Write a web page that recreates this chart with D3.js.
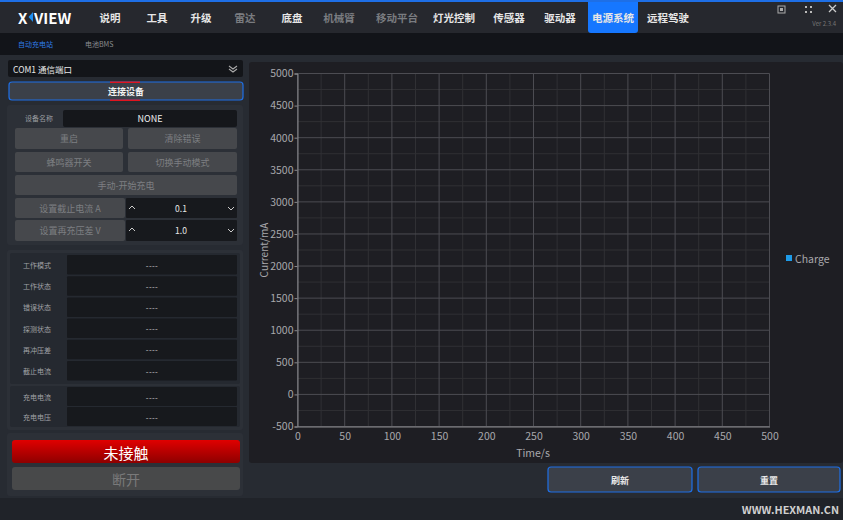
<!DOCTYPE html>
<html><head><meta charset="utf-8">
<script src="https://cdn.jsdelivr.net/npm/d3@7/dist/d3.min.js"></script>
<style>
html,body{margin:0;padding:0;background:#272b32;overflow:hidden}
svg{display:block}
text{font-family:"Noto Sans CJK SC","Noto Sans","Open Sans",sans-serif}
</style></head>
<body>
<svg id="c" width="843" height="520"></svg>
<script>
// ---- data ----
const menuItems = ["说明","工具","升级","雷达","底盘","机械臂","移动平台","灯光控制","传感器","驱动器","电源系统","远程驾驶"];
const menuEnabled = [true,true,true,false,true,false,false,true,true,true,true,true];
const subTabs = ["自动充电站","电池BMS"];
const statusLabels = ["工作模式","工作状态","错误状态","探测状态","再冲压差","截止电流"];
const chargeLabels = ["充电电流","充电电压"];
const statusValues = ["----","----","----","----","----","----"];
const chargeValues = ["----","----"];
const xTicks = [0,50,100,150,200,250,300,350,400,450,500];
const yTicks = [-500,0,500,1000,1500,2000,2500,3000,3500,4000,4500,5000];
const seriesNames = ["Charge"];
const chargeTime = [];     // no samples recorded
const chargeCurrent = [];

const svg = d3.select("#c");
function rect(x,y,w,h,fill,rx){return svg.append("rect").attr("x",x).attr("y",y).attr("width",w).attr("height",h).attr("fill",fill).attr("rx",rx||0);}
function txt(x,y,s,size,fill,anchor,weight){return svg.append("text").attr("x",x).attr("y",y).attr("font-size",size).attr("fill",fill).attr("text-anchor",anchor||"start").attr("dominant-baseline","central").attr("font-weight",weight||"normal").text(s);}

// background
rect(0,0,843,520,"#272b32");
// header
rect(0,0,843,33,"#26282e");
rect(0,0,843,2,"#1e6fe6");
// logo
txt(18,17,"X",15,"#ffffff","start","bold");
svg.append("path").attr("d","M33,12 L28.5,17 L33,22 Z").attr("fill","#1e8ef0");
txt(34,17,"VIEW",15,"#ffffff","start","bold");
// menu
const menuX = [110,157,201,245,292,339,397,454,509,560,613,668];
menuItems.forEach((m,i)=>{
  if(m==="电源系统"){
    svg.append("path").attr("d","M588,2 H638 V30 Q638,33 635,33 H591 Q588,33 588,30 Z").attr("fill","#1677ff");
  }
  txt(menuX[i],17,m,10.5,menuEnabled[i]?"#e6e6e6":"#7a7c80","middle","bold");
});
// window icons
svg.append("rect").attr("x",778).attr("y",6).attr("width",7).attr("height",7).attr("fill","none").attr("stroke","#aaa").attr("stroke-width",1);
svg.append("rect").attr("x",780).attr("y",8).attr("width",3).attr("height",3).attr("fill","#aaa");
[[805,6],[810,6],[805,11],[810,11]].forEach(p=>rect(p[0],p[1],2,2,"#bbb"));
svg.append("path").attr("d","M829,5 L836,12 M836,5 L829,12").attr("stroke","#ccc").attr("stroke-width",1.3);
txt(836,23,"Ver 2.3.4",6,"#777","end");
// subbar
rect(0,33,843,22,"#121419");
txt(18,44,subTabs[0],7,"#2f7de8","start");
txt(85,44,subTabs[1],7,"#8a8c90","start");

// ---- left panel ----
rect(8,60,235,17,"#131519",2);
txt(13,68.5,"COM1 通信端口",8.5,"#e8e8e8","start");
svg.append("path").attr("d","M229,66 L233,69 L237,66 M229,69 L233,72 L237,69").attr("stroke","#aaa").attr("fill","none").attr("stroke-width",1.1);
rect(9,82,234,18,"#3b4049",3);
svg.append("rect").attr("x",9).attr("y",82).attr("width",234).attr("height",18).attr("rx",3).attr("fill","none").attr("stroke","#1e6fe6").attr("stroke-width",1.2);
rect(110,81.5,30,1.5,"#e0141e");rect(110,99.5,30,1.5,"#e0141e");
txt(126,91,"连接设备",9,"#f2f2f2","middle","bold");

// group 1
rect(7,105,236,140,"#2c3037",3);
txt(39,118,"设备名称",7,"#9a9ca0","middle");
rect(63,110,174,17,"#15171b",2);
txt(150,118.5,"NONE",9,"#f0f0f0","middle");
const dis = "#46484c", disT="#7d7f82";
function btn(x,y,w,h,s){rect(x,y,w,h,dis,2);txt(x+w/2,y+h/2,s,9,disT,"middle");}
btn(15,128,108,21,"重启");btn(128,128,109,21,"清除错误");
btn(15,152,108,20,"蜂鸣器开关");btn(128,152,109,20,"切换手动模式");
btn(15,175,222,20,"手动-开始充电");
btn(15,198,110,20,"设置截止电流 A");btn(15,220,110,21,"设置再充压差 V");
[[198,"0.1"],[220,"1.0"]].forEach(d=>{
  rect(126,d[0],111,d[0]===198?20:21,"#17191d",1);
  const cy=d[0]+10;
  svg.append("path").attr("d",`M129,${cy+1} L132,${cy-2} L135,${cy+1}`).attr("stroke","#ccc").attr("fill","none");
  svg.append("path").attr("d",`M228,${cy-1} L231,${cy+2} L234,${cy-1}`).attr("stroke","#ccc").attr("fill","none");
  txt(181,cy,d[1],8.5,"#e8e8e8","middle");
});

// group 2
rect(7,250,236,180,"#2c3037",3);
rect(10,253,230,131,"#252930",2);
statusLabels.forEach((l,i)=>{
  const y=255+i*21.2;
  rect(67,y,170,19.5,"#17191d",1);
  txt(37,y+10,l,7,"#a0a2a6","middle");
  txt(152,y+10,statusValues[i],8,"#c8c8c8","middle").attr("letter-spacing",0.3);
});
rect(10,386,230,41,"#252930",2);
chargeLabels.forEach((l,i)=>{
  const y=387+i*20;
  rect(67,y,170,19,"#17191d",1);
  txt(37,y+10,l,7,"#a0a2a6","middle");
  txt(152,y+10,chargeValues[i],8,"#c8c8c8","middle").attr("letter-spacing",0.3);
});

// group 3
rect(7,433,236,63,"#2c3037",3);
const rg = svg.append("defs").append("linearGradient").attr("id","rg").attr("x1",0).attr("y1",0).attr("x2",0).attr("y2",1);
rg.append("stop").attr("offset","0%").attr("stop-color","#e00000");
rg.append("stop").attr("offset","100%").attr("stop-color","#8e0000");
rect(12,440,228,23,"url(#rg)",3);
txt(126,452,"未接触",15,"#ffffff","middle");
rect(12,467,228,23,"#48494a",3);
txt(126,479,"断开",14,"#7a7a7a","middle");

// ---- chart panel ----
rect(249,62,594,401,"#1e1e23",3);
const x = d3.scaleLinear().domain([0,500]).range([297.5,769.5]);
const y = d3.scaleLinear().domain([-500,5000]).range([426.5,73.5]);
const g = svg.append("g");
// minor grid
d3.range(25,500,50).forEach(v=>g.append("line").attr("x1",x(v)).attr("x2",x(v)).attr("y1",y(-500)).attr("y2",y(5000)).attr("stroke","#303034"));
d3.range(-250,5000,500).forEach(v=>g.append("line").attr("x1",x(0)).attr("x2",x(500)).attr("y1",y(v)).attr("y2",y(v)).attr("stroke","#303034"));
// major grid
xTicks.forEach(v=>g.append("line").attr("x1",x(v)).attr("x2",x(v)).attr("y1",y(-500)).attr("y2",y(5000)).attr("stroke","#4c4c52"));
yTicks.forEach(v=>g.append("line").attr("x1",x(0)).attr("x2",x(500)).attr("y1",y(v)).attr("y2",y(v)).attr("stroke","#4c4c52"));
// axes
const fmt = d => String(d);
const xa = svg.append("g").attr("transform",`translate(0,${y(-500)})`).call(d3.axisBottom(x).tickValues(xTicks).tickFormat(fmt).tickSize(0).tickPadding(6));
const ya = svg.append("g").attr("transform",`translate(${x(0)},0)`).call(d3.axisLeft(y).tickValues(yTicks).tickFormat(fmt).tickSize(3).tickPadding(1));
[xa,ya].forEach(a=>{a.selectAll("path").attr("stroke","#8a8a8e");a.selectAll("line").attr("stroke","#8a8a8e");a.selectAll("text").attr("fill","#a8a8ac").attr("font-size",10.5).attr("font-family","'Open Sans',sans-serif");});
// series line (empty)
svg.append("path").datum(chargeTime.map((t,i)=>[t,chargeCurrent[i]])).attr("fill","none").attr("stroke","#1e9be8").attr("d",d3.line().x(d=>x(d[0])).y(d=>y(d[1])));
// axis titles
svg.append("text").attr("transform","translate(263,250) rotate(-90)").attr("text-anchor","middle").attr("dominant-baseline","central").attr("font-size",10).attr("fill","#a8a8ac").attr("font-family","'Open Sans',sans-serif").text("Current/mA");
svg.append("text").attr("x",533).attr("y",452).attr("text-anchor","middle").attr("dominant-baseline","central").attr("font-size",10.5).attr("fill","#a8a8ac").attr("font-family","'Open Sans',sans-serif").text("Time/s");
// legend
seriesNames.forEach((s,i)=>{
  rect(786,255+i*14,6,6,"#1e9be8");
  svg.append("text").attr("x",795).attr("y",258+i*14).attr("dominant-baseline","central").attr("font-size",10.5).attr("fill","#a8a8ac").attr("font-family","'Open Sans',sans-serif").text(s);
});

// bottom buttons
function bbtn(x0,w,s){rect(x0,467,w,25,"#3b4049",3);svg.append("rect").attr("x",x0).attr("y",467).attr("width",w).attr("height",25).attr("rx",3).attr("fill","none").attr("stroke","#1e6fe6").attr("stroke-width",1.2);txt(x0+w/2,480,s,9,"#e8e8e8","middle","bold");}
bbtn(548,144,"刷新");bbtn(698,142,"重置");
// footer
rect(0,498,843,22,"#202329");
txt(839,509,"WWW.HEXMAN.CN",10.8,"#d0d0d0","end","bold");
</script>
</body></html>
